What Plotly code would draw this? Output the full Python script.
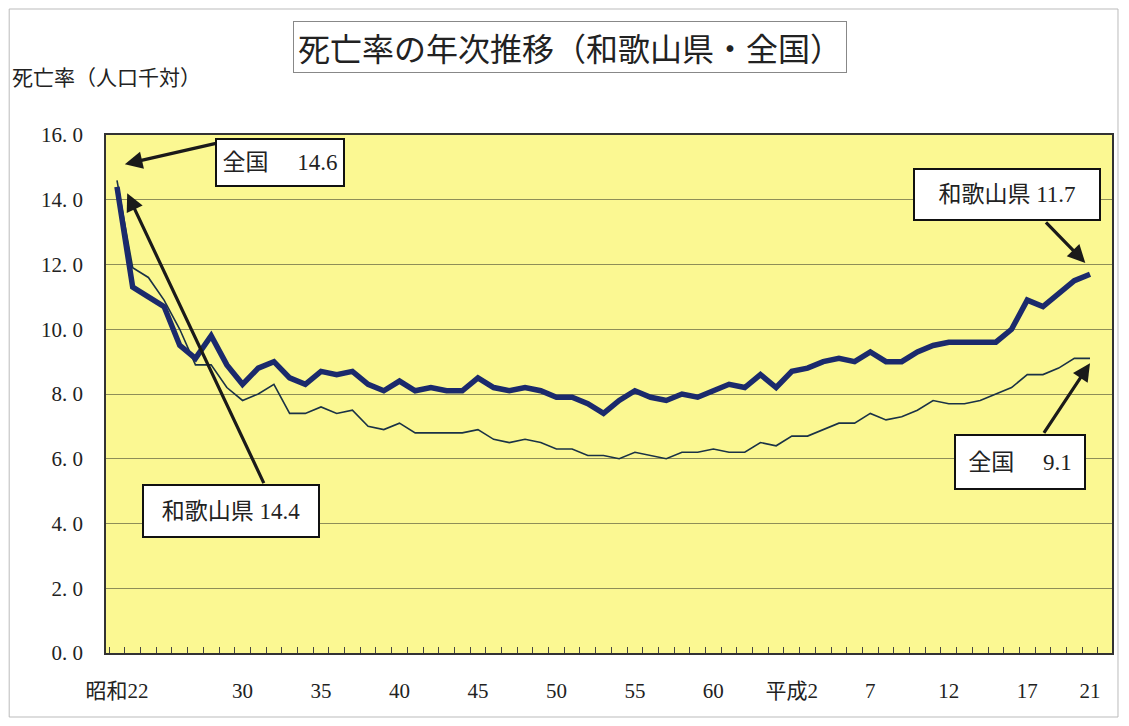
import plotly.graph_objects as go

# Years: 昭和22 (1947) .. 平成21 (2009), index 0..62
years = list(range(1947, 2010))
idx = list(range(len(years)))

wakayama = [14.4, 11.3, 11.0, 10.7, 9.5, 9.1, 9.8, 8.9, 8.3, 8.8,
            9.0, 8.5, 8.3, 8.7, 8.6, 8.7, 8.3, 8.1, 8.4, 8.1,
            8.2, 8.1, 8.1, 8.5, 8.2, 8.1, 8.2, 8.1, 7.9, 7.9,
            7.7, 7.4, 7.8, 8.1, 7.9, 7.8, 8.0, 7.9, 8.1, 8.3,
            8.2, 8.6, 8.2, 8.7, 8.8, 9.0, 9.1, 9.0, 9.3, 9.0,
            9.0, 9.3, 9.5, 9.6, 9.6, 9.6, 9.6, 10.0, 10.9, 10.7,
            11.1, 11.5, 11.7]

zenkoku = [14.6, 11.9, 11.6, 10.9, 10.0, 8.9, 8.9, 8.2, 7.8, 8.0,
           8.3, 7.4, 7.4, 7.6, 7.4, 7.5, 7.0, 6.9, 7.1, 6.8,
           6.8, 6.8, 6.8, 6.9, 6.6, 6.5, 6.6, 6.5, 6.3, 6.3,
           6.1, 6.1, 6.0, 6.2, 6.1, 6.0, 6.2, 6.2, 6.3, 6.2,
           6.2, 6.5, 6.4, 6.7, 6.7, 6.9, 7.1, 7.1, 7.4, 7.2,
           7.3, 7.5, 7.8, 7.7, 7.7, 7.8, 8.0, 8.2, 8.6, 8.6,
           8.8, 9.1, 9.1]

x_tick_pos = [0, 8, 13, 18, 23, 28, 33, 38, 43, 48, 53, 58, 62]
x_tick_text = ["昭和22", "30", "35", "40", "45", "50", "55", "60", "平成2", "7", "12", "17", "21"]
y_tick_vals = [0, 2, 4, 6, 8, 10, 12, 14, 16]
y_tick_text = ["0. 0", "2. 0", "4. 0", "6. 0", "8. 0", "10. 0", "12. 0", "14. 0", "16. 0"]

SERIF = "Liberation Serif, Noto Sans CJK JP"
CJK = "Noto Sans CJK JP"

fig = go.Figure()
fig.add_trace(go.Scatter(x=idx, y=zenkoku, mode="lines", name="全国",
                         line=dict(color="#1A3246", width=1.6)))
fig.add_trace(go.Scatter(x=idx, y=wakayama, mode="lines", name="和歌山県",
                         line=dict(color="#1B2A6C", width=5.5)))

# page has an 8px body margin; work in page pixels and convert
OFF = 8
W, H = 1113, 710
# target plot area on page: x 106..1114, y 135..653
L = 106 - OFF
R = W - (1114 - OFF)
T = 135 - OFF
B = H - (653 - OFF)

fig.update_layout(
    width=W, height=H,
    margin=dict(l=L, r=R, t=T, b=B),
    paper_bgcolor="white",
    plot_bgcolor="#FBF892",
    showlegend=False,
    font=dict(family=SERIF, color="#222"),
)

fig.update_xaxes(
    range=[-0.7, 63.4],
    tickmode="array", tickvals=x_tick_pos, ticktext=x_tick_text,
    ticks="", showgrid=False, zeroline=False,
    tickfont=dict(family=SERIF, size=21, color="#222"),
    ticklabelstandoff=18,
    showline=True, mirror=True, linecolor="#333", linewidth=1.5,
    minor=dict(ticks="inside", tickmode="linear", tick0=0.5, dtick=1,
               ticklen=6, tickcolor="#444", tickwidth=1, showgrid=False),
)
fig.update_yaxes(
    range=[0, 16],
    tickmode="array", tickvals=y_tick_vals, ticktext=y_tick_text,
    showgrid=True, gridcolor="#8E8E58", gridwidth=1, zeroline=False,
    tickfont=dict(family=SERIF, size=21, color="#222"),
    ticks="", ticklabelstandoff=17,
    showline=True, mirror=True, linecolor="#333", linewidth=1.5,
)

def px2paper_x(px):
    return (px - OFF - L) / (W - L - R)

def px2paper_y(py):
    return (H - B - (py - OFF)) / (H - T - B)

# Outer faint frame (page border)
fig.add_shape(type="rect", xref="paper", yref="paper",
              x0=px2paper_x(9), x1=px2paper_x(1120), y0=px2paper_y(717), y1=px2paper_y(9),
              line=dict(color="#BBBBBB", width=1))

# Title box
fig.add_annotation(xref="paper", yref="paper", x=px2paper_x(571), y=px2paper_y(47),
                   text="死亡率の年次推移（和歌山県・全国）", showarrow=False,
                   font=dict(family=CJK, size=32, color="#222"),
                   width=550, height=48, bordercolor="#888", borderwidth=1,
                   bgcolor="white", xanchor="center", yanchor="middle")

# Y-axis title
fig.add_annotation(xref="paper", yref="paper", x=px2paper_x(10), y=px2paper_y(76),
                   text="死亡率（人口千対）", showarrow=False,
                   font=dict(family=CJK, size=21, color="#222"),
                   xanchor="left", yanchor="middle")

# Arrows (tip in data coords, tail in data coords)
arrows = [
    (0.5, 15.1, 6.4, 15.75),
    (0.65, 14.2, 9.4, 5.2),
    (61.7, 12.05, 59.1, 13.35),
    (62.0, 8.95, 59.0, 6.75),
]
for (xt, yt, xs, ys) in arrows:
    fig.add_annotation(x=xt, y=yt, ax=xs, ay=ys, xref="x", yref="y",
                       axref="x", ayref="y", text="", showarrow=True,
                       arrowhead=2, arrowsize=1.1, arrowwidth=3.2, arrowcolor="#1a1a1a")

# Label boxes
boxes = [
    ("全国　 14.6", 280, 162, 128, 47),
    ("和歌山県 14.4", 231, 511, 176, 52),
    ("和歌山県 11.7", 1009, 194, 186, 51),
    ("全国　 9.1", 1022, 462, 130, 54),
]
for (txt, cx, cy, w, h) in boxes:
    fig.add_annotation(xref="paper", yref="paper", x=px2paper_x(cx), y=px2paper_y(cy),
                       text=txt, showarrow=False,
                       font=dict(family=SERIF, size=23, color="#222"),
                       width=w - 4, height=h - 4, bordercolor="#111", borderwidth=2,
                       bgcolor="white", xanchor="center", yanchor="middle")

fig.write_html("out.html")
